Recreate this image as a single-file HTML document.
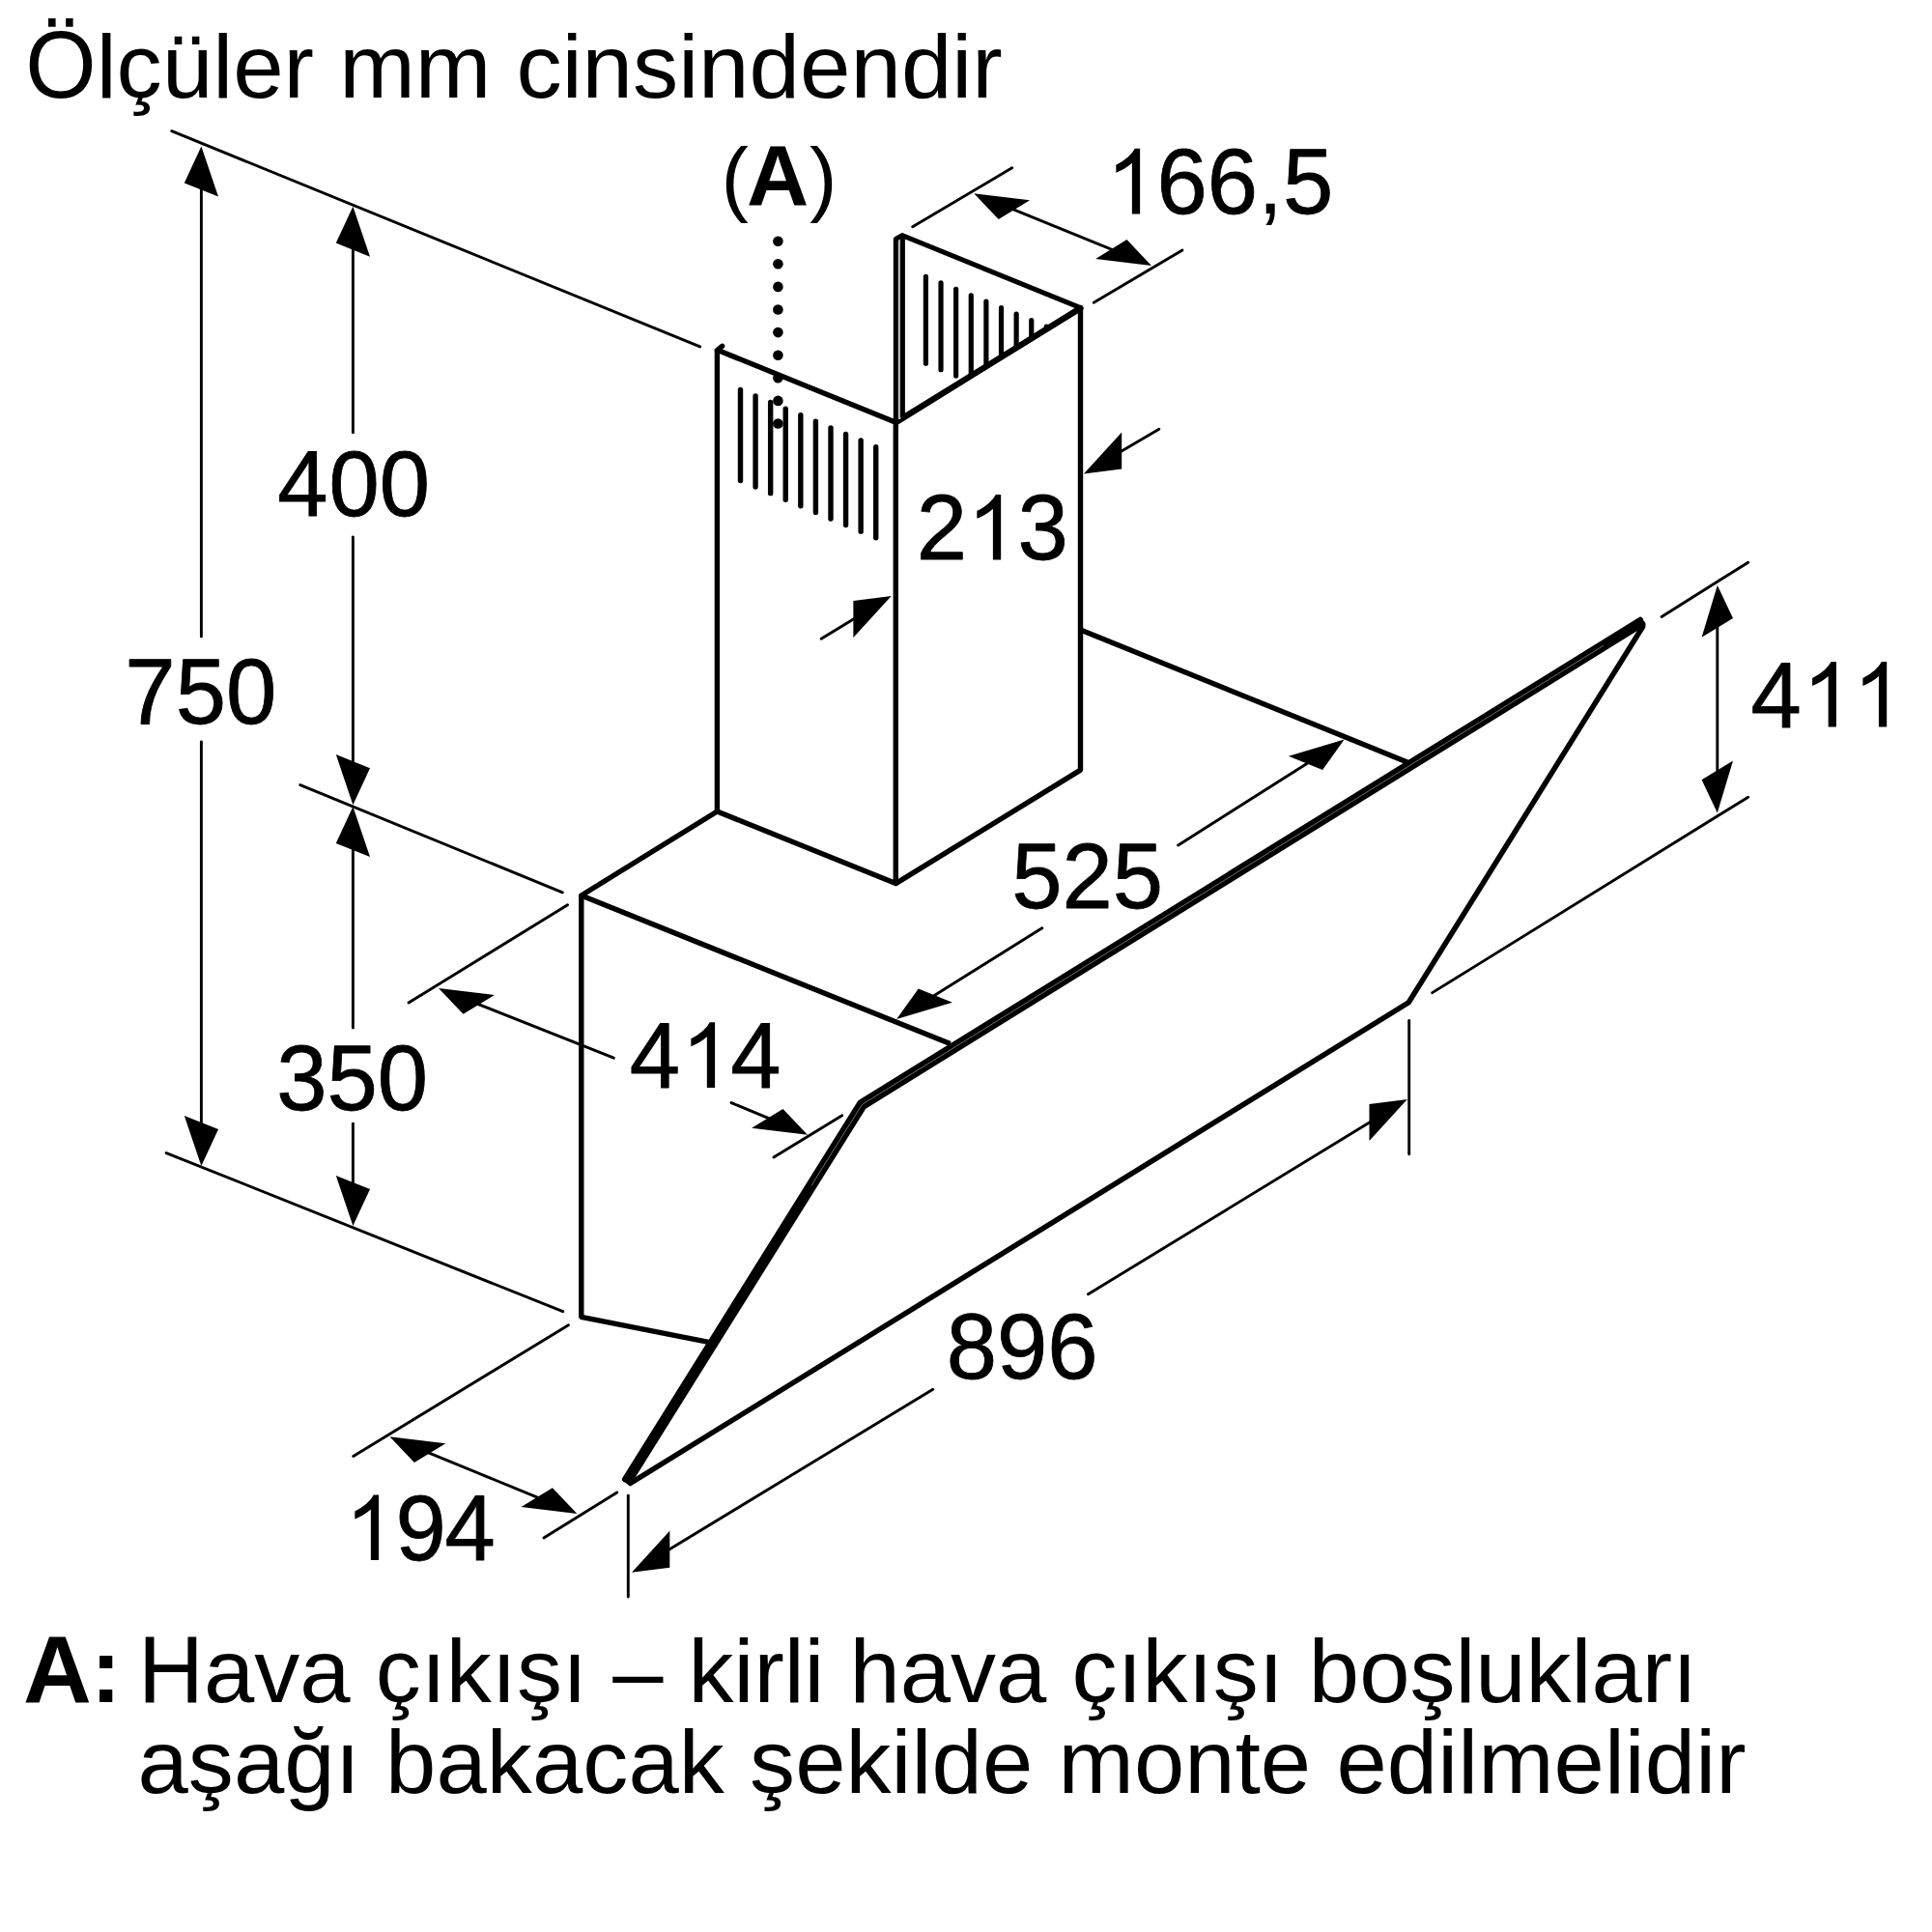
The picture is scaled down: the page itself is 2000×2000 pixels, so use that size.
<!DOCTYPE html>
<html><head><meta charset="utf-8"><title>Ölçüler</title>
<style>
html,body{margin:0;padding:0;background:#fff;}
svg{display:block;}
text{font-family:"Liberation Sans",sans-serif;fill:#000;}
</style></head>
<body>
<svg width="2000" height="2000" viewBox="0 0 2000 2000">
<rect width="2000" height="2000" fill="#fff"/>
<line x1="177.74" y1="135.65" x2="724.66" y2="358.95" stroke="#000" stroke-width="2.9" stroke-linecap="round" />
<line x1="310.84" y1="812.55" x2="582.26" y2="923.85" stroke="#000" stroke-width="2.9" stroke-linecap="round" />
<line x1="172.15" y1="1193.54" x2="582.75" y2="1357.66" stroke="#000" stroke-width="2.9" stroke-linecap="round" />
<line x1="208.4" y1="191.45" x2="208.4" y2="659.05" stroke="#000" stroke-width="2.9" stroke-linecap="round" />
<line x1="208.4" y1="767.85" x2="208.4" y2="1168.55" stroke="#000" stroke-width="2.9" stroke-linecap="round" />
<polygon points="208.4,151.5 226.0,203.6 190.8,189.4" fill="#000" stroke="none" stroke-width="0" />
<polygon points="208.4,1207.0 226.0,1169.1 190.8,1154.9" fill="#000" stroke="none" stroke-width="0" />
<line x1="365.4" y1="251.45" x2="365.4" y2="447.85" stroke="#000" stroke-width="2.9" stroke-linecap="round" />
<line x1="365.4" y1="555.85" x2="365.4" y2="793.55" stroke="#000" stroke-width="2.9" stroke-linecap="round" />
<polygon points="365.4,213.7 383.0,265.8 347.8,251.6" fill="#000" stroke="none" stroke-width="0" />
<polygon points="365.4,833.2 383.0,795.3 347.8,781.1" fill="#000" stroke="none" stroke-width="0" />
<line x1="365.4" y1="871.45" x2="365.4" y2="1063.95" stroke="#000" stroke-width="2.9" stroke-linecap="round" />
<line x1="365.4" y1="1163.25" x2="365.4" y2="1230.55" stroke="#000" stroke-width="2.9" stroke-linecap="round" />
<polygon points="365.4,835.0 383.0,887.1 347.8,872.9" fill="#000" stroke="none" stroke-width="0" />
<polygon points="365.4,1269.0 383.0,1231.1 347.8,1216.9" fill="#000" stroke="none" stroke-width="0" />
<line x1="944.75" y1="234.86" x2="1047.65" y2="173.84" stroke="#000" stroke-width="2.9" stroke-linecap="round" />
<line x1="1132.25" y1="313.16" x2="1223.95" y2="259.04" stroke="#000" stroke-width="2.9" stroke-linecap="round" />
<line x1="1040" y1="213.2" x2="1160" y2="262" stroke="#000" stroke-width="2.9" stroke-linecap="butt" />
<polygon points="1008.2,200.3 1066.1,207.3 1033.7,227.1" fill="#000" stroke="none" stroke-width="0" />
<polygon points="1192.0,274.9 1166.5,248.1 1134.1,267.9" fill="#000" stroke="none" stroke-width="0" />
<line x1="1151.25" y1="472.77" x2="1199.85" y2="444.33" stroke="#000" stroke-width="2.9" stroke-linecap="round" />
<polygon points="1121.9,490.4 1161.2,485.4 1161.2,447.4" fill="#000" stroke="none" stroke-width="0" />
<line x1="850.14" y1="661.25" x2="893.76" y2="634.75" stroke="#000" stroke-width="2.9" stroke-linecap="round" />
<polygon points="922.7,617.1 883.4,660.1 883.4,622.1" fill="#000" stroke="none" stroke-width="0" />
<line x1="1720.13" y1="638.43" x2="1809.67" y2="582.17" stroke="#000" stroke-width="2.9" stroke-linecap="round" />
<line x1="1809.67" y1="825.16" x2="1482.73" y2="1027.64" stroke="#000" stroke-width="2.9" stroke-linecap="round" />
<line x1="1777.8" y1="645" x2="1777.8" y2="800" stroke="#000" stroke-width="2.9" stroke-linecap="butt" />
<polygon points="1777.8,605.9 1794.0,640.0 1761.6,659.8" fill="#000" stroke="none" stroke-width="0" />
<polygon points="1777.8,841.4 1794.0,787.5 1761.6,807.3" fill="#000" stroke="none" stroke-width="0" />
<line x1="1219.62" y1="875.02" x2="1358.78" y2="786.78" stroke="#000" stroke-width="2.9" stroke-linecap="round" />
<polygon points="1391.6,765.5 1369.1,797.1 1333.9,782.8" fill="#000" stroke="none" stroke-width="0" />
<line x1="1078.77" y1="960.77" x2="961.23" y2="1034.23" stroke="#000" stroke-width="2.9" stroke-linecap="round" />
<polygon points="928.2,1055.0 985.9,1037.7 950.7,1023.4" fill="#000" stroke="none" stroke-width="0" />
<line x1="587.57" y1="936.76" x2="423.03" y2="1038.04" stroke="#000" stroke-width="2.9" stroke-linecap="round" />
<line x1="800.94" y1="1197.95" x2="871.76" y2="1154.75" stroke="#000" stroke-width="2.9" stroke-linecap="round" />
<line x1="491.35" y1="1038.03" x2="635.35" y2="1095.17" stroke="#000" stroke-width="2.9" stroke-linecap="round" />
<line x1="757.04" y1="1141.56" x2="798.66" y2="1158.94" stroke="#000" stroke-width="2.9" stroke-linecap="round" />
<polygon points="454.0,1023.0 511.9,1030.0 479.5,1049.8" fill="#000" stroke="none" stroke-width="0" />
<polygon points="836.0,1174.7 810.5,1147.9 778.1,1167.7" fill="#000" stroke="none" stroke-width="0" />
<line x1="588.46" y1="1371.75" x2="365.74" y2="1507.45" stroke="#000" stroke-width="2.9" stroke-linecap="round" />
<line x1="562.93" y1="1591.94" x2="638.77" y2="1545.06" stroke="#000" stroke-width="2.9" stroke-linecap="round" />
<line x1="440" y1="1502.3" x2="560" y2="1551.7" stroke="#000" stroke-width="2.9" stroke-linecap="butt" />
<polygon points="403.4,1487.2 461.3,1494.2 428.9,1514.0" fill="#000" stroke="none" stroke-width="0" />
<polygon points="597.4,1567.1 571.9,1540.3 539.5,1560.1" fill="#000" stroke="none" stroke-width="0" />
<line x1="650.3" y1="1548.25" x2="650.3" y2="1652.95" stroke="#000" stroke-width="2.9" stroke-linecap="round" />
<line x1="1458.7" y1="1056.45" x2="1458.7" y2="1194.75" stroke="#000" stroke-width="2.9" stroke-linecap="round" />
<line x1="686.24" y1="1608.05" x2="965.76" y2="1438.15" stroke="#000" stroke-width="2.9" stroke-linecap="round" />
<line x1="1126.44" y1="1339.84" x2="1423.76" y2="1158.26" stroke="#000" stroke-width="2.9" stroke-linecap="round" />
<polygon points="654.0,1627.7 693.3,1622.7 693.3,1584.7" fill="#000" stroke="none" stroke-width="0" />
<polygon points="1456.8,1137.9 1417.5,1180.9 1417.5,1142.9" fill="#000" stroke="none" stroke-width="0" />
<line x1="958.4" y1="286.40000000000003" x2="958.4" y2="376.2" stroke="#000" stroke-width="5.2" stroke-linecap="round" />
<line x1="974.02" y1="292.85" x2="974.02" y2="382.65" stroke="#000" stroke-width="5.2" stroke-linecap="round" />
<line x1="989.64" y1="299.3" x2="989.64" y2="389.09999999999997" stroke="#000" stroke-width="5.2" stroke-linecap="round" />
<line x1="1005.26" y1="305.75000000000006" x2="1005.26" y2="395.55" stroke="#000" stroke-width="5.2" stroke-linecap="round" />
<line x1="1020.88" y1="312.20000000000005" x2="1020.88" y2="402.0" stroke="#000" stroke-width="5.2" stroke-linecap="round" />
<line x1="1036.5" y1="318.65000000000003" x2="1036.5" y2="408.45" stroke="#000" stroke-width="5.2" stroke-linecap="round" />
<line x1="1052.12" y1="325.1" x2="1052.12" y2="414.9" stroke="#000" stroke-width="5.2" stroke-linecap="round" />
<line x1="1067.74" y1="331.55" x2="1067.74" y2="421.34999999999997" stroke="#000" stroke-width="5.2" stroke-linecap="round" />
<line x1="1083.36" y1="338.00000000000006" x2="1083.36" y2="427.8" stroke="#000" stroke-width="5.2" stroke-linecap="round" />
<polygon points="927.3,437.2 1118.5,319.0 1118.5,797.1 927.3,914.6" fill="#fff" stroke="none" stroke-width="0" />
<polyline points="742.4,362.5 742.4,840.0 927.3,914.6 927.3,437.2 745.0,363.3" fill="none" stroke="#000" stroke-width="5.4" stroke-linejoin="round" stroke-linecap="butt"/>
<line x1="742.4" y1="362.5" x2="747.6" y2="358.3" stroke="#000" stroke-width="5.4" stroke-linecap="round" />
<polyline points="927.3,437.2 1118.5,319.0 1118.5,797.1 927.3,914.6" fill="none" stroke="#000" stroke-width="5.4" stroke-linejoin="round" stroke-linecap="butt"/>
<line x1="927.3" y1="437.2" x2="1118.5" y2="319" stroke="#000" stroke-width="6.3" stroke-linecap="round" />
<line x1="930.9" y1="248" x2="930.9" y2="434" stroke="#bdbdbd" stroke-width="3"/>
<polyline points="927.3,437.2 927.3,247.4 933.9,243.6 1118.5,318.6" fill="none" stroke="#000" stroke-width="5.0" stroke-linejoin="round" stroke-linecap="round"/>
<line x1="934.4" y1="245" x2="934.4" y2="432" stroke="#000" stroke-width="5.0" stroke-linecap="butt" />
<line x1="766.5" y1="403.4" x2="766.5" y2="497.5" stroke="#000" stroke-width="5.4" stroke-linecap="round" />
<line x1="782.08" y1="409.97999999999996" x2="782.08" y2="504.08" stroke="#000" stroke-width="5.4" stroke-linecap="round" />
<line x1="797.66" y1="416.56" x2="797.66" y2="510.66" stroke="#000" stroke-width="5.4" stroke-linecap="round" />
<line x1="813.24" y1="423.14" x2="813.24" y2="517.24" stroke="#000" stroke-width="5.4" stroke-linecap="round" />
<line x1="828.82" y1="429.71999999999997" x2="828.82" y2="523.8199999999999" stroke="#000" stroke-width="5.4" stroke-linecap="round" />
<line x1="844.4" y1="436.29999999999995" x2="844.4" y2="530.3999999999999" stroke="#000" stroke-width="5.4" stroke-linecap="round" />
<line x1="859.98" y1="442.88" x2="859.98" y2="536.98" stroke="#000" stroke-width="5.4" stroke-linecap="round" />
<line x1="875.56" y1="449.46" x2="875.56" y2="543.56" stroke="#000" stroke-width="5.4" stroke-linecap="round" />
<line x1="891.14" y1="456.03999999999996" x2="891.14" y2="550.1399999999999" stroke="#000" stroke-width="5.4" stroke-linecap="round" />
<line x1="906.72" y1="462.61999999999995" x2="906.72" y2="556.7199999999999" stroke="#000" stroke-width="5.4" stroke-linecap="round" />
<circle cx="805.4" cy="249.7" r="5.3" fill="#000"/>
<circle cx="805.4" cy="273.3" r="5.3" fill="#000"/>
<circle cx="805.4" cy="296.9" r="5.3" fill="#000"/>
<circle cx="805.4" cy="320.5" r="5.3" fill="#000"/>
<circle cx="805.4" cy="344.1" r="5.3" fill="#000"/>
<circle cx="805.4" cy="367.7" r="5.3" fill="#000"/>
<circle cx="805.4" cy="391.3" r="5.3" fill="#000"/>
<circle cx="805.4" cy="414.9" r="5.3" fill="#000"/>
<circle cx="805.4" cy="438.5" r="5.3" fill="#000"/>
<polyline points="742.4,840.0 601.8,927.0 983.7,1080.6" fill="none" stroke="#000" stroke-width="5.4" stroke-linejoin="round" stroke-linecap="butt"/>
<polyline points="601.8,927.0 601.8,1363.3 733.6,1389.4" fill="none" stroke="#000" stroke-width="5.4" stroke-linejoin="round" stroke-linecap="butt"/>
<line x1="1118.5" y1="652" x2="1458" y2="789.4" stroke="#000" stroke-width="5.4" stroke-linecap="butt" />
<polyline points="1701.6,642.5 892.3,1143.5 647.6,1535.0" fill="none" stroke="#000" stroke-width="5.6" stroke-linejoin="round" stroke-linecap="butt"/>
<polyline points="1697.9,641.6 890.3,1141.5 646.8,1531.3" fill="none" stroke="#000" stroke-width="5.7" stroke-linejoin="round" stroke-linecap="round"/>
<polyline points="1700.7,646.2 894.3,1145.5 651.4,1534.1" fill="none" stroke="#000" stroke-width="5.7" stroke-linejoin="round" stroke-linecap="round"/>
<polyline points="1660,668.3 892.3,1143.5 840,1227.2" fill="none" stroke="#c4c4c4" stroke-width="0.55"/>
<polyline points="1700.6,648.8 1458.2,1037.8 652.5,1535.5" fill="none" stroke="#000" stroke-width="5.5" stroke-linejoin="miter" stroke-linecap="round"/>
<text transform="translate(26.3,100.8) scale(1,1.045)" font-size="94.3" text-anchor="start">Ö</text>
<text transform="translate(99.649560546875,100.8) scale(1,0.977)" font-size="94.3" text-anchor="start">lçüler mm cinsindendir</text>
<text x="746.5" y="212.6" font-size="85.5" text-anchor="start">(</text>
<text x="866.6" y="212.6" font-size="85.5" text-anchor="end">)</text>
<text x="805.25" y="212.9" font-size="89" text-anchor="middle" font-weight="bold">A</text>
<text x="24" y="1761.7" font-size="98" text-anchor="start" font-weight="bold">A</text>
<text x="94" y="1761.7" font-size="94" text-anchor="start" font-weight="bold">:</text>
<text transform="translate(143,1761.7) scale(1,1.045)" font-size="94" text-anchor="start">H</text>
<text transform="translate(211.0837890625,1761.7) scale(1,0.977)" font-size="94" text-anchor="start">ava çıkışı – kirli hava çıkışı boşlukları</text>
<text transform="translate(142.5,1855.8) scale(1,0.977)" font-size="94" text-anchor="start" letter-spacing="0.1">aşağı bakacak şekilde monte edilmelidir</text>
<text transform="translate(287.20,534.30) scale(1,1.02)" font-size="94.0" stroke="#000" stroke-width="0.8" stroke-linejoin="round">4</text>
<text transform="translate(340.58,534.30) scale(1,1.02)" font-size="94.0" stroke="#000" stroke-width="0.8" stroke-linejoin="round">0</text>
<text transform="translate(392.86,534.30) scale(1,1.02)" font-size="94.0" stroke="#000" stroke-width="0.8" stroke-linejoin="round">0</text>
<text transform="translate(129.35,748.70) scale(1,1.016)" font-size="94.0" stroke="#000" stroke-width="0.8" stroke-linejoin="round">7</text>
<text transform="translate(181.63,748.70) scale(1,1.016)" font-size="94.0" stroke="#000" stroke-width="0.8" stroke-linejoin="round">5</text>
<text transform="translate(233.91,748.70) scale(1,1.02)" font-size="94.0" stroke="#000" stroke-width="0.8" stroke-linejoin="round">0</text>
<text transform="translate(286.30,1149.40) scale(1,1.02)" font-size="94.0" stroke="#000" stroke-width="0.8" stroke-linejoin="round">3</text>
<text transform="translate(338.58,1149.40) scale(1,1.016)" font-size="94.0" stroke="#000" stroke-width="0.8" stroke-linejoin="round">5</text>
<text transform="translate(390.86,1149.40) scale(1,1.02)" font-size="94.0" stroke="#000" stroke-width="0.8" stroke-linejoin="round">0</text>
<text transform="translate(651.70,1125.80) scale(1,1.02)" font-size="94.0" stroke="#000" stroke-width="0.8" stroke-linejoin="round">4</text>
<path d="M763 0H583V1147Q518 1085 412.5 1023Q307 961 223 930V1104Q374 1175 487 1276Q600 1377 647 1472H763Z" transform="translate(705.08,1125.9) scale(0.04590,-0.04590)" fill="#000"/>
<text transform="translate(756.26,1125.80) scale(1,1.02)" font-size="94.0" stroke="#000" stroke-width="0.8" stroke-linejoin="round">4</text>
<text transform="translate(1047.30,939.80) scale(1,1.016)" font-size="94.0" stroke="#000" stroke-width="0.8" stroke-linejoin="round">5</text>
<text transform="translate(1099.58,939.80) scale(1,1.02)" font-size="94.0" stroke="#000" stroke-width="0.8" stroke-linejoin="round">2</text>
<text transform="translate(1151.86,939.80) scale(1,1.016)" font-size="94.0" stroke="#000" stroke-width="0.8" stroke-linejoin="round">5</text>
<text transform="translate(948.85,579.40) scale(1,1.02)" font-size="94.0" stroke="#000" stroke-width="0.8" stroke-linejoin="round">2</text>
<path d="M763 0H583V1147Q518 1085 412.5 1023Q307 961 223 930V1104Q374 1175 487 1276Q600 1377 647 1472H763Z" transform="translate(1001.13,579.5) scale(0.04590,-0.04590)" fill="#000"/>
<text transform="translate(1053.41,579.40) scale(1,1.02)" font-size="94.0" stroke="#000" stroke-width="0.8" stroke-linejoin="round">3</text>
<path d="M763 0H583V1147Q518 1085 412.5 1023Q307 961 223 930V1104Q374 1175 487 1276Q600 1377 647 1472H763Z" transform="translate(357.10,1615.1) scale(0.04590,-0.04590)" fill="#000"/>
<text transform="translate(409.38,1615.00) scale(1,1.02)" font-size="94.0" stroke="#000" stroke-width="0.8" stroke-linejoin="round">9</text>
<text transform="translate(460.56,1615.00) scale(1,1.02)" font-size="94.0" stroke="#000" stroke-width="0.8" stroke-linejoin="round">4</text>
<text transform="translate(979.80,1426.60) scale(1,1.02)" font-size="94.0" stroke="#000" stroke-width="0.8" stroke-linejoin="round">8</text>
<text transform="translate(1032.08,1426.60) scale(1,1.02)" font-size="94.0" stroke="#000" stroke-width="0.8" stroke-linejoin="round">9</text>
<text transform="translate(1084.36,1426.60) scale(1,1.02)" font-size="94.0" stroke="#000" stroke-width="0.8" stroke-linejoin="round">6</text>
<path d="M763 0H583V1147Q518 1085 412.5 1023Q307 961 223 930V1104Q374 1175 487 1276Q600 1377 647 1472H763Z" transform="translate(1145.10,221.4) scale(0.04590,-0.04590)" fill="#000"/>
<text transform="translate(1197.38,221.30) scale(1,1.02)" font-size="94.0" stroke="#000" stroke-width="0.8" stroke-linejoin="round">6</text>
<text transform="translate(1249.66,221.30) scale(1,1.02)" font-size="94.0" stroke="#000" stroke-width="0.8" stroke-linejoin="round">6</text>
<text transform="translate(1301.93,221.4)" font-size="94.0">,</text>
<text transform="translate(1328.05,221.30) scale(1,1.016)" font-size="94.0" stroke="#000" stroke-width="0.8" stroke-linejoin="round">5</text>
<text transform="translate(1812.50,752.50) scale(1,1.02)" font-size="94.0" stroke="#000" stroke-width="0.8" stroke-linejoin="round">4</text>
<path d="M763 0H583V1147Q518 1085 412.5 1023Q307 961 223 930V1104Q374 1175 487 1276Q600 1377 647 1472H763Z" transform="translate(1865.88,752.6) scale(0.04590,-0.04590)" fill="#000"/>
<path d="M763 0H583V1147Q518 1085 412.5 1023Q307 961 223 930V1104Q374 1175 487 1276Q600 1377 647 1472H763Z" transform="translate(1918.16,752.6) scale(0.04590,-0.04590)" fill="#000"/>
</svg>
</body></html>
